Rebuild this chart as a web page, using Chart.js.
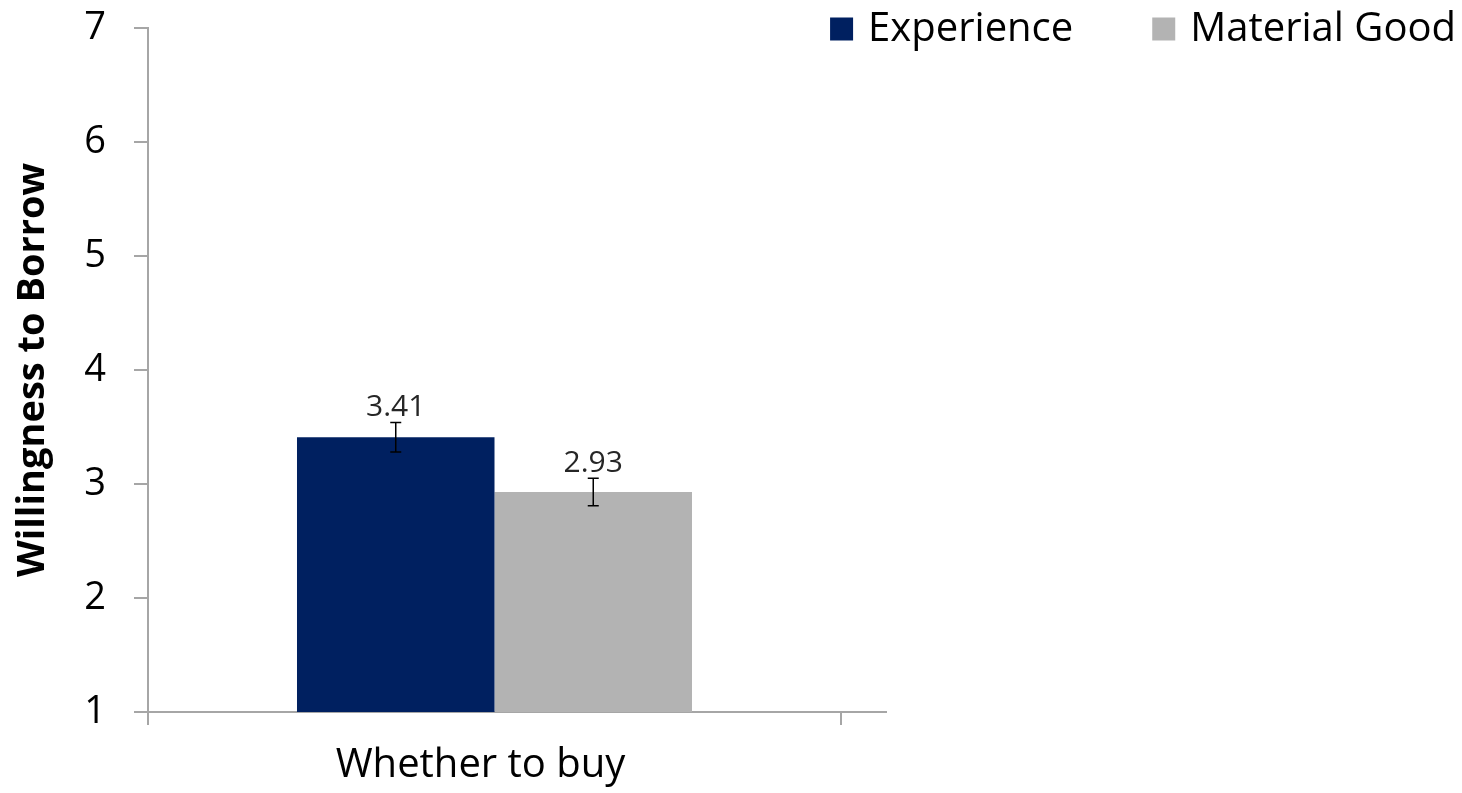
<!DOCTYPE html>
<html><head><meta charset="utf-8">
<script src="https://cdn.jsdelivr.net/npm/chart.js@4/dist/chart.umd.min.js"></script>
<style>html,body{margin:0;padding:0;background:#fff;}#wrap{width:1462px;height:793px;}</style>
</head><body><div id="wrap"><canvas id="c" width="1462" height="793"></canvas></div>
<script>
const categories = ['Whether to buy'];
const seriesNames = ['Experience', 'Material Good'];
const experienceValues = [3.41];
const materialGoodValues = [2.93];
const experienceErrors = [0.13];
const materialGoodErrors = [0.12];
const yTickValues = [1, 2, 3, 4, 5, 6, 7];
const yTitle = 'Willingness to Borrow';
const seriesColors = ['#002060', '#b3b3b3'];
const errorsBySeries = [experienceErrors, materialGoodErrors];

const FONT = "'Open Sans', sans-serif";
const AXIS_COLOR = '#a6a6a6';

const errorBarPlugin = {
  id: 'errorBars',
  afterDatasetsDraw(chart) {
    const ctx = chart.ctx, yScale = chart.scales.y;
    ctx.save();
    chart.data.datasets.forEach((ds, i) => {
      const meta = chart.getDatasetMeta(i);
      meta.data.forEach((el, j) => {
        const v = ds.data[j], e = errorsBySeries[i][j];
        const yTop = yScale.getPixelForValue(v + e);
        const yBot = yScale.getPixelForValue(v - e);
        const x = el.x, cap = 5.5;
        ctx.strokeStyle = '#000'; ctx.lineWidth = 1.5;
        ctx.beginPath();
        ctx.moveTo(x, yTop); ctx.lineTo(x, yBot);
        ctx.moveTo(x - cap, yTop); ctx.lineTo(x + cap, yTop);
        ctx.moveTo(x - cap, yBot); ctx.lineTo(x + cap, yBot);
        ctx.stroke();
        ctx.fillStyle = '#262626';
        ctx.font = '30px ' + FONT;
        ctx.textAlign = 'center'; ctx.textBaseline = 'alphabetic';
        ctx.fillText(v.toFixed(2), x, yTop - 6);
      });
    });
    ctx.restore();
  }
};

const axisExtensionPlugin = {
  id: 'axisExtension',
  afterDraw(chart) {
    const ctx = chart.ctx, a = chart.chartArea;
    ctx.save();
    ctx.strokeStyle = AXIS_COLOR; ctx.lineWidth = 2;
    ctx.beginPath();
    ctx.moveTo(a.right, a.bottom); ctx.lineTo(a.right + 46, a.bottom);
    ctx.stroke();
    ctx.restore();
  }
};

const legendPlugin = {
  id: 'customLegend',
  afterDraw(chart) {
    const ctx = chart.ctx;
    ctx.save();
    ctx.font = '40px ' + FONT;
    ctx.textBaseline = 'middle'; ctx.textAlign = 'left';
    const box = 23, gap = 15, spacing = 79, cy = 29;
    let x = 1456;
    const ds = chart.data.datasets;
    for (let i = ds.length - 1; i >= 0; i--) {
      const w = ctx.measureText(ds[i].label).width;
      x -= w;
      ctx.fillStyle = '#000';
      ctx.fillText(ds[i].label, x, cy + 1);
      x -= gap + box;
      ctx.fillStyle = ds[i].backgroundColor;
      ctx.fillRect(x, cy - box / 2, box, box);
      x -= spacing;
    }
    ctx.restore();
  }
};

Chart.defaults.font.family = FONT;

new Chart(document.getElementById('c'), {
  type: 'bar',
  data: {
    labels: categories,
    datasets: [
      { label: seriesNames[0], data: experienceValues, backgroundColor: seriesColors[0], borderWidth: 0 },
      { label: seriesNames[1], data: materialGoodValues, backgroundColor: seriesColors[1], borderWidth: 0 }
    ]
  },
  options: {
    responsive: false,
    animation: false,
    devicePixelRatio: 1,
    layout: { autoPadding: false, padding: { left: 0, right: 621, top: 28, bottom: 0 } },
    datasets: { bar: { categoryPercentage: 0.57, barPercentage: 1.0 } },
    plugins: { legend: { display: false }, tooltip: { enabled: false } },
    scales: {
      x: {
        type: 'category',
        offset: true,
        afterFit: s => { s.height = 81; s.paddingLeft = 0; s.paddingRight = 0; },
        grid: { display: true, drawOnChartArea: false, offset: true, tickLength: 13, color: AXIS_COLOR, lineWidth: 2 },
        border: { display: true, color: AXIS_COLOR, width: 2 },
        ticks: { color: '#000', font: { size: 40, family: FONT }, padding: 17, labelOffset: -14 }
      },
      y: {
        min: 1, max: 7,
        afterFit: s => { s.width = 148; s.paddingTop = 0; s.paddingBottom = 0; },
        afterBuildTicks: s => { s.ticks = yTickValues.map(v => ({ value: v })); },
        grid: { display: true, drawOnChartArea: false, tickLength: 14, color: AXIS_COLOR, lineWidth: 2 },
        border: { display: true, color: AXIS_COLOR, width: 2 },
        ticks: { color: '#000', font: { size: 38, family: FONT }, padding: 28 },
        title: { display: true, text: yTitle, color: '#000', font: { size: 38, weight: 'bold', family: FONT, lineHeight: 1.2 }, padding: { top: 10, bottom: 0 } }
      }
    }
  },
  plugins: [errorBarPlugin, axisExtensionPlugin, legendPlugin]
});
</script></body></html>
